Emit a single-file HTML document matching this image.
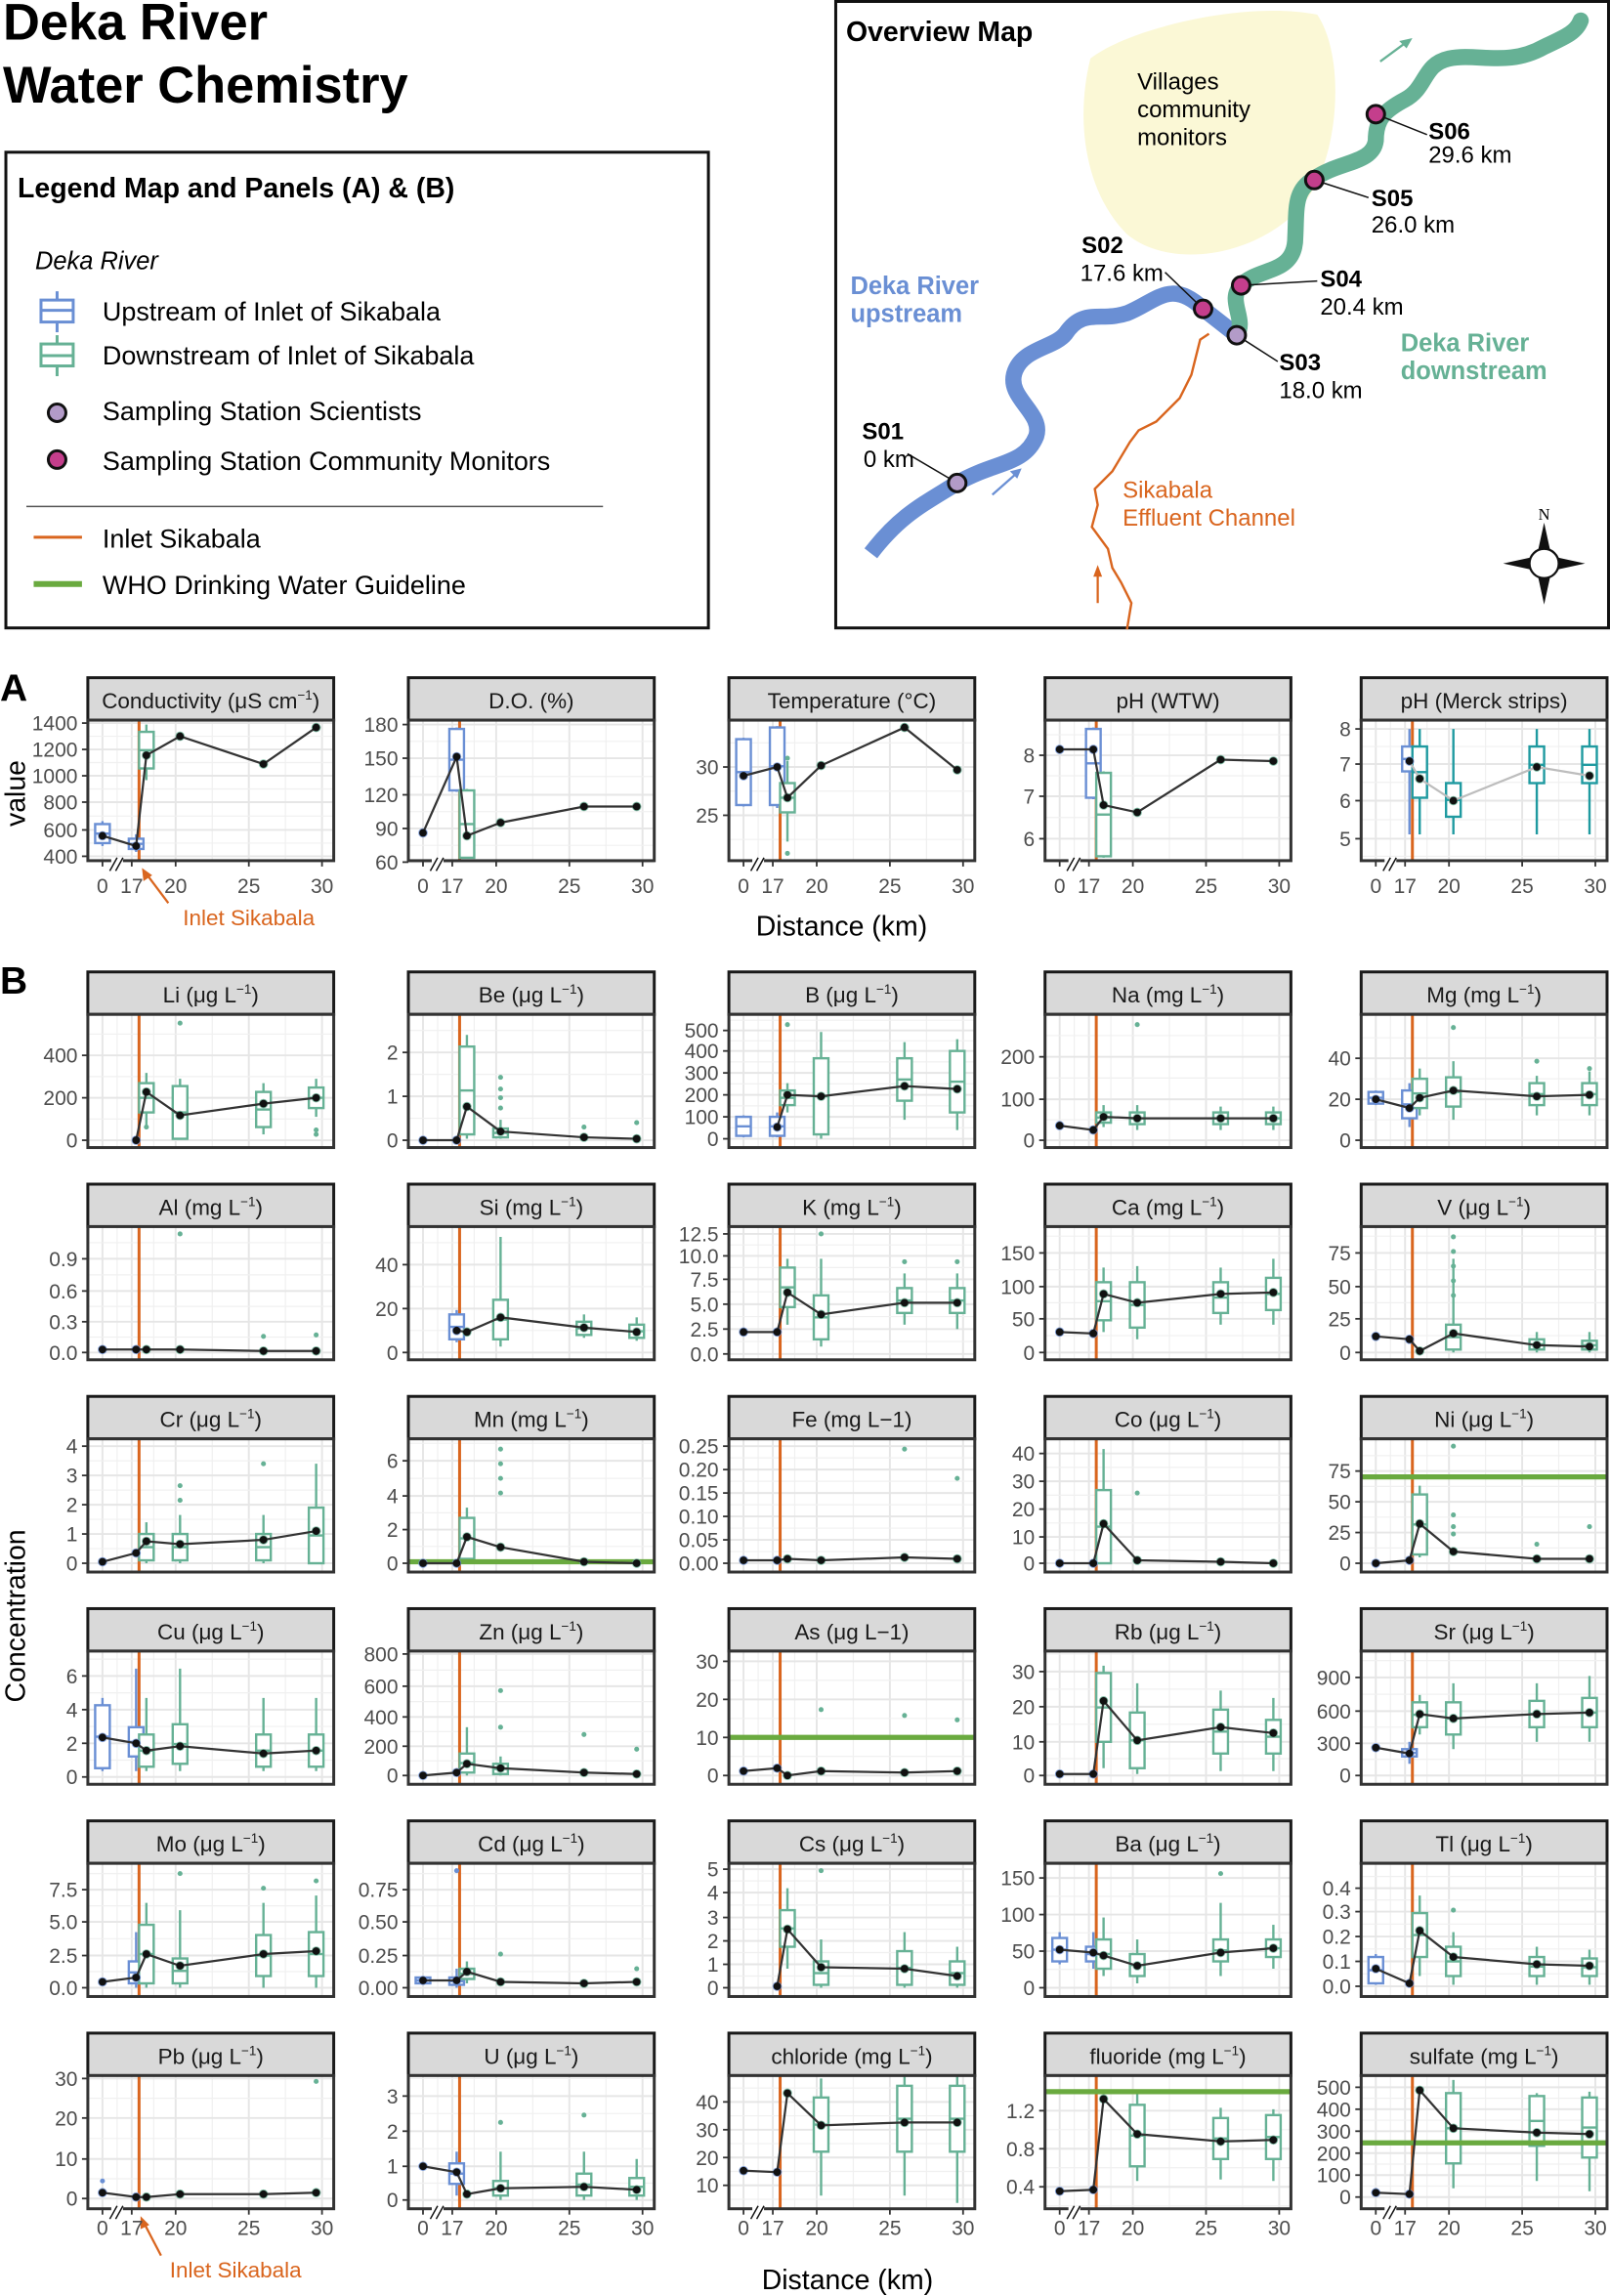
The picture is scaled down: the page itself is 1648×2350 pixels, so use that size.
<!DOCTYPE html>
<html><head><meta charset="utf-8">
<style>
html,body{margin:0;padding:0;background:#fff}
svg{display:block}
text{font-family:"Liberation Sans Narrow","Liberation Sans",sans-serif}
.t{font-size:14px;fill:#4d4d4d}
.s{font-size:15px;fill:#1a1a1a;text-anchor:middle}
.e{text-anchor:end}
.m{text-anchor:middle}
.sup{font-size:9px}
</style></head>
<body>
<svg id="sv" width="1648" height="2350" viewBox="0 0 1100 1568.6" xmlns="http://www.w3.org/2000/svg">
<rect width="1100" height="1569" fill="#fff"/>
<!-- Title -->
<text x="2" y="27" style="font-family:'Liberation Sans',sans-serif;font-weight:bold;font-size:35px">Deka River</text>
<text x="2" y="70" style="font-family:'Liberation Sans',sans-serif;font-weight:bold;font-size:35px">Water Chemistry</text>

<!-- Legend -->
<rect x="4" y="104" width="480" height="325" fill="#fff" stroke="#111" stroke-width="2"/>
<text x="12" y="135" style="font-weight:bold;font-size:19px">Legend Map and Panels (A) &amp; (B)</text>
<text x="24" y="184" style="font-style:italic;font-size:17px">Deka River</text>
<g stroke-width="2" fill="none">
<g stroke="#6a8fd4"><line x1="39" y1="199" x2="39" y2="227"/><rect x="28" y="205" width="22" height="15" fill="#fff"/><line x1="28" y1="212" x2="50" y2="212"/></g>
<g stroke="#66b195"><line x1="39" y1="229" x2="39" y2="257"/><rect x="28" y="235" width="22" height="15" fill="#fff"/><line x1="28" y1="243" x2="50" y2="243"/></g>
</g>
<circle cx="39" cy="282" r="6" fill="#b39bc8" stroke="#111" stroke-width="2"/>
<circle cx="39" cy="314" r="6" fill="#c43e8c" stroke="#111" stroke-width="2"/>
<line x1="18" y1="346" x2="412" y2="346" stroke="#555" stroke-width="1"/>
<line x1="23" y1="367" x2="56" y2="367" stroke="#d9651e" stroke-width="2"/>
<line x1="23" y1="399" x2="56" y2="399" stroke="#6aaa3f" stroke-width="4"/>
<g style="font-size:18px">
<text x="70" y="219">Upstream of Inlet of Sikabala</text>
<text x="70" y="249">Downstream of Inlet of Sikabala</text>
<text x="70" y="287">Sampling Station Scientists</text>
<text x="70" y="321">Sampling Station Community Monitors</text>
<text x="70" y="374">Inlet Sikabala</text>
<text x="70" y="406">WHO Drinking Water Guideline</text>
</g>

<!-- Map -->
<rect x="571" y="1" width="528" height="428" fill="#fff" stroke="#111" stroke-width="2"/>
<path d="M745,40 C770,20 850,0 900,10 C920,40 915,110 890,140 C860,175 800,185 770,160 C740,130 735,80 745,40 Z" fill="#fbf8d6"/>
<path d="M770,430 L773,412 L766,398 L760,388 L757,375 L746,360 L750,345 L748,334 L760,322 L772,302 L778,294 L790,288 L806,272 L814,256 L818,240 L820,232 L826,228" fill="none" stroke="#d9651e" stroke-width="1.6"/>
<path d="M595,378 C615,352 630,345 654,330 C680,315 700,318 708,298 C713,282 688,272 693,255 C698,238 720,238 728,228 C740,210 752,220 770,214 C790,206 800,190 822,211 L845,229" fill="none" stroke="#6a8fd4" stroke-width="11" stroke-linecap="butt"/>
<path d="M845,229 C852,218 838,205 848,195 C860,182 885,188 885,162 C886,142 884,130 898,122 C915,110 938,112 940,96 C940,82 945,76 960,68 C975,60 972,44 990,40 C1010,36 1030,46 1055,32 C1070,25 1077,22 1080,14" fill="none" stroke="#66b195" stroke-width="11" stroke-linecap="round"/>
<line x1="678" y1="338" x2="695" y2="323" stroke="#6a8fd4" stroke-width="1.5"/><path d="M698,320 l-8,2 l5,5z" fill="#6a8fd4"/>
<line x1="943" y1="42" x2="962" y2="28" stroke="#66b195" stroke-width="1.5"/><path d="M965,26 l-9,2 l5,5z" fill="#66b195"/>
<line x1="750" y1="412" x2="750" y2="390" stroke="#d9651e" stroke-width="1.5"/><path d="M750,386 l-3,8 h6z" fill="#d9651e"/>
<g stroke="#111" stroke-width="1">
<line x1="654" y1="330" x2="620" y2="310"/><line x1="822" y1="211" x2="796" y2="186"/>
<line x1="845" y1="229" x2="873" y2="247"/><line x1="848" y1="195" x2="900" y2="192"/>
<line x1="898" y1="123" x2="935" y2="135"/><line x1="940" y1="78" x2="975" y2="92"/>
</g>
<g stroke="#111" stroke-width="2">
<circle cx="654" cy="330" r="6" fill="#b39bc8"/><circle cx="845" cy="229" r="6" fill="#b39bc8"/>
<circle cx="822" cy="211" r="6" fill="#c43e8c"/><circle cx="848" cy="195" r="6" fill="#c43e8c"/>
<circle cx="898" cy="123" r="6" fill="#c43e8c"/><circle cx="940" cy="78" r="6" fill="#c43e8c"/>
</g>
<text x="578" y="28" style="font-weight:bold;font-size:19px">Overview Map</text>
<g style="font-size:16px">
<text x="777" y="61">Villages</text><text x="777" y="80">community</text><text x="777" y="99">monitors</text>
<text x="589" y="300" style="font-weight:bold">S01</text><text x="590" y="319">0 km</text>
<text x="739" y="173" style="font-weight:bold">S02</text><text x="738" y="192">17.6 km</text>
<text x="874" y="253" style="font-weight:bold">S03</text><text x="874" y="272">18.0 km</text>
<text x="902" y="196" style="font-weight:bold">S04</text><text x="902" y="215">20.4 km</text>
<text x="937" y="141" style="font-weight:bold">S05</text><text x="937" y="159">26.0 km</text>
<text x="976" y="95" style="font-weight:bold">S06</text><text x="976" y="111">29.6 km</text>
<text x="767" y="340" fill="#d9651e">Sikabala</text><text x="767" y="359" fill="#d9651e">Effluent Channel</text>
</g>
<g style="font-size:17px;font-weight:bold">
<text x="581" y="201" fill="#6a8fd4">Deka River</text><text x="581" y="220" fill="#6a8fd4">upstream</text>
<text x="957" y="240" fill="#66b195">Deka River</text><text x="957" y="259" fill="#66b195">downstream</text>
</g>
<g transform="translate(1055,385)">
<path d="M0,-28 L5,-5 L28,0 L5,5 L0,28 L-5,5 L-28,0 L-5,-5Z" fill="#111"/>
<circle r="10" fill="#fff" stroke="#111" stroke-width="1.5"/>
<text x="0" y="-30" class="m" style="font-family:'Liberation Serif',serif;font-size:11px">N</text>
</g>

<!-- Panel letters and axis titles -->
<text x="0" y="479" style="font-family:'Liberation Sans',sans-serif;font-weight:bold;font-size:26px">A</text>
<text x="0" y="679" style="font-family:'Liberation Sans',sans-serif;font-weight:bold;font-size:26px">B</text>
<text transform="translate(17,542) rotate(-90)" class="m" style="font-size:19px">value</text>
<text transform="translate(17,1104) rotate(-90)" class="m" style="font-size:19px">Concentration</text>
<text x="575" y="639" class="m" style="font-size:19px">Distance (km)</text>
<text x="579" y="1564" class="m" style="font-size:19px">Distance (km)</text>
<text x="170" y="632" class="m" style="font-size:15px" fill="#d9651e">Inlet Sikabala</text>
<text x="161" y="1556" class="m" style="font-size:15px" fill="#d9651e">Inlet Sikabala</text>
<line x1="115" y1="617" x2="100" y2="597" stroke="#d9651e" stroke-width="1.5"/><path d="M97,593 l1,9 l6,-4z" fill="#d9651e"/>
<line x1="110" y1="1541" x2="98" y2="1518" stroke="#d9651e" stroke-width="1.5"/><path d="M96,1514 l0,9 l6,-3z" fill="#d9651e"/>

<g id="shapes"></g>

<!-- Strip labels -->
<g class="s">
<text x="144" y="484">Conductivity (μS cm<tspan class="sup" dy="-6">−1</tspan><tspan dy="6">)</tspan></text>
<text x="363" y="484">D.O. (%)</text>
<text x="582" y="484">Temperature (°C)</text>
<text x="798" y="484">pH (WTW)</text>
<text x="1014" y="484">pH (Merck strips)</text>

<text x="144" y="685">Li (μg L<tspan class="sup" dy="-6">−1</tspan><tspan dy="6">)</tspan></text>
<text x="363" y="685">Be (μg L<tspan class="sup" dy="-6">−1</tspan><tspan dy="6">)</tspan></text>
<text x="582" y="685">B (μg L<tspan class="sup" dy="-6">−1</tspan><tspan dy="6">)</tspan></text>
<text x="798" y="685">Na (mg L<tspan class="sup" dy="-6">−1</tspan><tspan dy="6">)</tspan></text>
<text x="1014" y="685">Mg (mg L<tspan class="sup" dy="-6">−1</tspan><tspan dy="6">)</tspan></text>

<text x="144" y="830">Al (mg L<tspan class="sup" dy="-6">−1</tspan><tspan dy="6">)</tspan></text>
<text x="363" y="830">Si (mg L<tspan class="sup" dy="-6">−1</tspan><tspan dy="6">)</tspan></text>
<text x="582" y="830">K (mg L<tspan class="sup" dy="-6">−1</tspan><tspan dy="6">)</tspan></text>
<text x="798" y="830">Ca (mg L<tspan class="sup" dy="-6">−1</tspan><tspan dy="6">)</tspan></text>
<text x="1014" y="830">V (μg L<tspan class="sup" dy="-6">−1</tspan><tspan dy="6">)</tspan></text>

<text x="144" y="975">Cr (μg L<tspan class="sup" dy="-6">−1</tspan><tspan dy="6">)</tspan></text>
<text x="363" y="975">Mn (mg L<tspan class="sup" dy="-6">−1</tspan><tspan dy="6">)</tspan></text>
<text x="582" y="975">Fe (mg L−1)</text>
<text x="798" y="975">Co (μg L<tspan class="sup" dy="-6">−1</tspan><tspan dy="6">)</tspan></text>
<text x="1014" y="975">Ni (μg L<tspan class="sup" dy="-6">−1</tspan><tspan dy="6">)</tspan></text>

<text x="144" y="1120">Cu (μg L<tspan class="sup" dy="-6">−1</tspan><tspan dy="6">)</tspan></text>
<text x="363" y="1120">Zn (μg L<tspan class="sup" dy="-6">−1</tspan><tspan dy="6">)</tspan></text>
<text x="582" y="1120">As (μg L−1)</text>
<text x="798" y="1120">Rb (μg L<tspan class="sup" dy="-6">−1</tspan><tspan dy="6">)</tspan></text>
<text x="1014" y="1120">Sr (μg L<tspan class="sup" dy="-6">−1</tspan><tspan dy="6">)</tspan></text>

<text x="144" y="1265">Mo (μg L<tspan class="sup" dy="-6">−1</tspan><tspan dy="6">)</tspan></text>
<text x="363" y="1265">Cd (μg L<tspan class="sup" dy="-6">−1</tspan><tspan dy="6">)</tspan></text>
<text x="582" y="1265">Cs (μg L<tspan class="sup" dy="-6">−1</tspan><tspan dy="6">)</tspan></text>
<text x="798" y="1265">Ba (μg L<tspan class="sup" dy="-6">−1</tspan><tspan dy="6">)</tspan></text>
<text x="1014" y="1265">Tl (μg L<tspan class="sup" dy="-6">−1</tspan><tspan dy="6">)</tspan></text>

<text x="144" y="1410">Pb (μg L<tspan class="sup" dy="-6">−1</tspan><tspan dy="6">)</tspan></text>
<text x="363" y="1410">U (μg L<tspan class="sup" dy="-6">−1</tspan><tspan dy="6">)</tspan></text>
<text x="582" y="1410">chloride (mg L<tspan class="sup" dy="-6">−1</tspan><tspan dy="6">)</tspan></text>
<text x="798" y="1410">fluoride (mg L<tspan class="sup" dy="-6">−1</tspan><tspan dy="6">)</tspan></text>
<text x="1014" y="1410">sulfate (mg L<tspan class="sup" dy="-6">−1</tspan><tspan dy="6">)</tspan></text>
</g>

<!-- Y tick labels -->
<g class="t e">
<text x="53" y="499">1400</text><text x="53" y="517">1200</text><text x="53" y="535">1000</text><text x="53" y="553">800</text><text x="53" y="572">600</text><text x="53" y="590">400</text>
<text x="272" y="500">180</text><text x="272" y="523">150</text><text x="272" y="548">120</text><text x="272" y="571">90</text><text x="272" y="594">60</text>
<text x="491" y="529">30</text><text x="491" y="562">25</text>
<text x="707" y="521">8</text><text x="707" y="549">7</text><text x="707" y="578">6</text>
<text x="923" y="503">8</text><text x="923" y="527">7</text><text x="923" y="552">6</text><text x="923" y="578">5</text>

<text x="53" y="726">400</text><text x="53" y="755">200</text><text x="53" y="784">0</text>
<text x="272" y="724">2</text><text x="272" y="754">1</text><text x="272" y="784">0</text>
<text x="491" y="709">500</text><text x="491" y="723">400</text><text x="491" y="738">300</text><text x="491" y="753">200</text><text x="491" y="768">100</text><text x="491" y="783">0</text>
<text x="707" y="727">200</text><text x="707" y="756">100</text><text x="707" y="784">0</text>
<text x="923" y="728">40</text><text x="923" y="756">20</text><text x="923" y="784">0</text>

<text x="53" y="865">0.9</text><text x="53" y="887">0.6</text><text x="53" y="908">0.3</text><text x="53" y="929">0.0</text>
<text x="272" y="869">40</text><text x="272" y="899">20</text><text x="272" y="929">0</text>
<text x="491" y="848">12.5</text><text x="491" y="863">10.0</text><text x="491" y="879">7.5</text><text x="491" y="896">5.0</text><text x="491" y="913">2.5</text><text x="491" y="930">0.0</text>
<text x="707" y="861">150</text><text x="707" y="884">100</text><text x="707" y="906">50</text><text x="707" y="929">0</text>
<text x="923" y="861">75</text><text x="923" y="884">50</text><text x="923" y="906">25</text><text x="923" y="929">0</text>

<text x="53" y="993">4</text><text x="53" y="1013">3</text><text x="53" y="1033">2</text><text x="53" y="1053">1</text><text x="53" y="1073">0</text>
<text x="272" y="1003">6</text><text x="272" y="1027">4</text><text x="272" y="1050">2</text><text x="272" y="1073">0</text>
<text x="491" y="993">0.25</text><text x="491" y="1009">0.20</text><text x="491" y="1025">0.15</text><text x="491" y="1041">0.10</text><text x="491" y="1057">0.05</text><text x="491" y="1073">0.00</text>
<text x="707" y="998">40</text><text x="707" y="1017">30</text><text x="707" y="1036">20</text><text x="707" y="1055">10</text><text x="707" y="1073">0</text>
<text x="923" y="1010">75</text><text x="923" y="1031">50</text><text x="923" y="1052">25</text><text x="923" y="1073">0</text>

<text x="53" y="1150">6</text><text x="53" y="1173">4</text><text x="53" y="1196">2</text><text x="53" y="1219">0</text>
<text x="272" y="1135">800</text><text x="272" y="1157">600</text><text x="272" y="1178">400</text><text x="272" y="1198">200</text><text x="272" y="1218">0</text>
<text x="491" y="1140">30</text><text x="491" y="1166">20</text><text x="491" y="1192">10</text><text x="491" y="1218">0</text>
<text x="707" y="1147">30</text><text x="707" y="1171">20</text><text x="707" y="1195">10</text><text x="707" y="1218">0</text>
<text x="923" y="1151">900</text><text x="923" y="1174">600</text><text x="923" y="1196">300</text><text x="923" y="1218">0</text>

<text x="53" y="1296">7.5</text><text x="53" y="1318">5.0</text><text x="53" y="1341">2.5</text><text x="53" y="1363">0.0</text>
<text x="272" y="1296">0.75</text><text x="272" y="1318">0.50</text><text x="272" y="1341">0.25</text><text x="272" y="1363">0.00</text>
<text x="491" y="1282">5</text><text x="491" y="1298">4</text><text x="491" y="1315">3</text><text x="491" y="1331">2</text><text x="491" y="1347">1</text><text x="491" y="1363">0</text>
<text x="707" y="1288">150</text><text x="707" y="1313">100</text><text x="707" y="1338">50</text><text x="707" y="1363">0</text>
<text x="923" y="1295">0.4</text><text x="923" y="1311">0.3</text><text x="923" y="1328">0.2</text><text x="923" y="1345">0.1</text><text x="923" y="1362">0.0</text>

<text x="53" y="1425">30</text><text x="53" y="1452">20</text><text x="53" y="1480">10</text><text x="53" y="1507">0</text>
<text x="272" y="1437">3</text><text x="272" y="1461">2</text><text x="272" y="1485">1</text><text x="272" y="1508">0</text>
<text x="491" y="1441">40</text><text x="491" y="1460">30</text><text x="491" y="1479">20</text><text x="491" y="1498">10</text>
<text x="707" y="1447">1.2</text><text x="707" y="1473">0.8</text><text x="707" y="1499">0.4</text>
<text x="923" y="1431">500</text><text x="923" y="1446">400</text><text x="923" y="1461">300</text><text x="923" y="1476">200</text><text x="923" y="1491">100</text><text x="923" y="1506">0</text>
</g>

<!-- X tick labels -->
<g class="t m">
<text x="70" y="610">0</text><text x="90" y="610">17</text><text x="120" y="610">20</text><text x="170" y="610">25</text><text x="220" y="610">30</text>
<text x="289" y="610">0</text><text x="309" y="610">17</text><text x="339" y="610">20</text><text x="389" y="610">25</text><text x="439" y="610">30</text>
<text x="508" y="610">0</text><text x="528" y="610">17</text><text x="558" y="610">20</text><text x="608" y="610">25</text><text x="658" y="610">30</text>
<text x="724" y="610">0</text><text x="744" y="610">17</text><text x="774" y="610">20</text><text x="824" y="610">25</text><text x="874" y="610">30</text>
<text x="940" y="610">0</text><text x="960" y="610">17</text><text x="990" y="610">20</text><text x="1040" y="610">25</text><text x="1090" y="610">30</text>
<text x="70" y="1527">0</text><text x="90" y="1527">17</text><text x="120" y="1527">20</text><text x="170" y="1527">25</text><text x="220" y="1527">30</text>
<text x="289" y="1527">0</text><text x="309" y="1527">17</text><text x="339" y="1527">20</text><text x="389" y="1527">25</text><text x="439" y="1527">30</text>
<text x="508" y="1527">0</text><text x="528" y="1527">17</text><text x="558" y="1527">20</text><text x="608" y="1527">25</text><text x="658" y="1527">30</text>
<text x="724" y="1527">0</text><text x="744" y="1527">17</text><text x="774" y="1527">20</text><text x="824" y="1527">25</text><text x="874" y="1527">30</text>
<text x="940" y="1527">0</text><text x="960" y="1527">17</text><text x="990" y="1527">20</text><text x="1040" y="1527">25</text><text x="1090" y="1527">30</text>
</g>
</svg>
<script>
(function(){
var NS="http://www.w3.org/2000/svg",G=document.getElementById("shapes");
function el(t,a,p){var e=document.createElementNS(NS,t);for(var k in a)e.setAttribute(k,a[k]);(p||G).appendChild(e);return e;}
var cols=[60,279,498,714,930],XO=[10,33,40,63,120,156];
var BL="#6a8fd4",GR="#66b195",TE="#1f9aa0",OR="#d9651e",WHO="#6aaa3f";
function col(k){return k<2?BL:GR;}
var P=[];
function A(c,t,pts,bx,o){o=o||{};P.push({c:c,st:463,pt:492,pb:588,ticks:t,pts:pts,bx:bx||[],who:o.who,xl:true,gray:o.gray,inlet:!o.noin,out:o.out});}
function B(c,r,t,pts,bx,o){o=o||{};var st=664+145*r;P.push({c:c,st:st,pt:st+29,pb:st+120,ticks:t,pts:pts,bx:bx||[],who:o.who,xl:r==5,inlet:true,out:o.out});}
A(0,[494,512,530,548,567,585],[571,578,516,503,522,497],[[0,563,576,561,578],[1,573,580,570,582],[2,500,525,495,533]]);
A(1,[495,518,543,566,589],[569,517,571,562,551,551],[[1,498,540,497,541],[2,540,586,539,586]]);
A(2,[524,557],[530,524,545,523,497,526],[[0,505,550,504,551],[1,497,550,496,552],[2,535,555,520,575]],{out:[[2,518],[2,583]]});
A(3,[516,544,573],[512,512,550,555,519,520],[[1,498,545,497,546],[2,528,585,527,586]]);
A(4,[498,522,547,573],[null,520,532,547,524,530],[[1,510,527,498,570,BL],[2,510,545,498,570,TE],[3,535,558,498,570,TE],[4,510,535,498,570,TE],[5,510,535,498,570,TE]],{gray:true});
B(0,0,[721,750,779],[null,779,746,762,754,750],[[2,740,760,733,770],[3,742,778,737,778],[4,746,770,740,775],[5,743,757,737,763]],{out:[[3,699],[2,770],[5,772],[5,775]]});
B(1,0,[719,749,779],[779,779,756,773,777,778],[[2,715,775,707,778],[3,771,777,765,778]],{out:[[3,736],[3,744],[3,750],[3,757],[4,770],[5,767]]});
B(2,0,[704,718,733,748,763,778],[null,770,748,749,742,744],[[0,763,776,762,777],[1,763,776,760,777],[2,745,755,740,760],[3,723,775,705,778],[4,723,752,712,765],[5,718,760,710,772]],{out:[[2,700]]});
B(3,0,[722,751,779],[769,772,763,764,764,764],[[2,760,767,755,770],[3,760,768,755,772],[4,760,768,756,772],[5,760,768,756,772]],{out:[[3,700]]});
B(4,0,[723,751,779],[751,757,750,745,749,748],[[0,746,754,745,755],[1,745,764,740,770],[2,737,757,730,762],[3,736,756,725,765],[4,740,755,735,762],[5,740,755,732,762]],{out:[[3,702],[4,725],[5,730]]});
B(0,1,[860,882,903,924],[922,922,922,922,923,923],[],{out:[[3,843],[5,912],[4,913]]});
B(1,1,[864,894,924],[null,909,910,900,907,910],[[1,898,915,895,917],[3,888,915,845,920],[4,903,912,898,914],[5,905,914,900,916]]);
B(2,1,[843,858,874,891,908,925],[910,910,883,898,890,890],[[2,866,893,860,905],[3,885,915,860,920],[4,880,897,870,905],[5,880,897,870,908]],{out:[[3,843],[4,862],[5,862]]});
B(3,1,[856,879,901,924],[910,911,884,890,884,883],[[2,876,902,866,910],[3,876,907,865,915],[4,876,897,866,905],[5,873,895,860,905]]);
B(4,1,[856,879,901,924],[913,915,923,911,919,920],[[3,905,922,860,924],[4,915,922,910,924],[5,916,922,910,924]],{out:[[3,845],[3,855],[3,865],[3,875],[3,885]]});
B(0,2,[988,1008,1028,1048,1068],[1067,1061,1053,1055,1052,1046],[[2,1048,1066,1040,1068],[3,1048,1066,1035,1068],[4,1048,1066,1035,1068],[5,1030,1068,1000,1068]],{out:[[3,1015],[3,1025],[4,1000]]});
B(1,2,[998,1022,1045,1068],[1068,1068,1050,1057,1067,1068],[[2,1037,1065,1030,1068]],{who:1067,out:[[3,990],[3,1000],[3,1010],[3,1020]]});
B(2,2,[988,1004,1020,1036,1052,1068],[1066,1066,1065,1066,1064,1065],[],{out:[[4,990],[5,1010]]});
B(3,2,[993,1012,1031,1050,1068],[1068,1068,1041,1066,1067,1068],[[2,1018,1068,990,1068]],{out:[[3,1020]]});
B(4,2,[1005,1026,1047,1068],[1068,1066,1041,1060,1065,1065],[[2,1021,1062,1015,1064]],{who:1009,out:[[3,988],[3,1035],[3,1043],[3,1048],[4,1055],[5,1043]]});
B(0,3,[1145,1168,1191,1214],[1187,1191,1196,1193,1198,1196],[[0,1165,1208,1160,1210],[1,1180,1200,1140,1210],[2,1185,1207,1160,1210],[3,1178,1205,1140,1210],[4,1185,1207,1160,1210],[5,1185,1207,1160,1210]]);
B(1,3,[1130,1152,1173,1193,1213],[1213,1211,1205,1208,1211,1212],[[2,1198,1211,1180,1213],[3,1205,1212,1200,1213]],{out:[[3,1180],[3,1155],[5,1195],[4,1185]]});
B(2,3,[1135,1161,1187,1213],[1210,1208,1213,1210,1211,1210],[],{who:1187,out:[[3,1168],[4,1172],[5,1175]]});
B(3,3,[1142,1166,1190,1213],[1212,1212,1162,1189,1180,1184],[[2,1143,1190,1138,1208],[3,1170,1208,1150,1212],[4,1168,1198,1155,1210],[5,1175,1198,1160,1210]]);
B(4,3,[1146,1169,1191,1213],[1194,1198,1171,1174,1171,1170],[[1,1195,1200,1190,1205],[2,1163,1180,1158,1185],[3,1163,1185,1150,1195],[4,1162,1180,1150,1190],[5,1160,1180,1145,1190]]);
B(0,4,[1291,1313,1336,1358],[1354,1351,1335,1343,1335,1333],[[1,1340,1355,1320,1358],[2,1315,1355,1300,1358],[3,1338,1355,1305,1358],[4,1322,1350,1300,1358],[5,1320,1350,1295,1358]],{out:[[3,1280],[5,1285],[4,1290]]});
B(1,4,[1291,1313,1336,1358],[1353,1353,1347,1354,1355,1354],[[0,1351,1355,1350,1356],[1,1351,1356,1345,1358],[2,1345,1352,1340,1355]],{out:[[1,1278],[3,1335],[5,1345]]});
B(2,4,[1277,1293,1310,1326,1342,1358],[null,1357,1318,1344,1345,1350],[[2,1305,1330,1290,1345],[3,1340,1356,1325,1358],[4,1333,1356,1320,1358],[5,1340,1356,1330,1358]],{out:[[3,1278]]});
B(3,4,[1283,1308,1333,1358],[1332,1334,1336,1343,1334,1331],[[0,1324,1340,1320,1342],[1,1330,1340,1320,1345],[2,1325,1345,1310,1350],[3,1335,1350,1325,1355],[4,1325,1340,1300,1350],[5,1325,1337,1315,1345]],{out:[[4,1280]]});
B(4,4,[1290,1306,1323,1340,1357],[1345,1355,1319,1337,1342,1343],[[0,1337,1355,1335,1356,BL],[2,1307,1337,1295,1350],[3,1330,1350,1320,1356],[4,1337,1350,1330,1356],[5,1338,1350,1332,1356]],{out:[[3,1305]]});
B(0,5,[1420,1447,1475,1502],[1498,1501,1501,1499,1499,1498],[],{out:[[5,1422],[0,1490]]});
B(1,5,[1432,1456,1480,1503],[1480,1484,1499,1495,1494,1496],[[1,1478,1492,1470,1500],[3,1490,1500,1470,1503],[4,1485,1500,1470,1503],[5,1488,1500,1475,1503]],{out:[[3,1450],[4,1445]]});
B(2,5,[1436,1455,1474,1493],[1483,1484,1430,1452,1450,1450],[[3,1433,1470,1420,1500],[4,1425,1470,1418,1500],[5,1425,1470,1418,1505]]);
B(3,5,[1442,1468,1494],[1497,1496,1434,1458,1463,1462],[[3,1438,1480,1430,1490],[4,1447,1475,1440,1489],[5,1445,1475,1441,1490]],{who:1429});
B(4,5,[1426,1441,1456,1471,1486,1501],[1498,1499,1428,1454,1457,1458],[[3,1430,1478,1421,1495],[4,1432,1466,1430,1490],[5,1433,1474,1429,1497]],{who:1464});

P.forEach(function(p){
  var x0=cols[p.c],W=168;
  el("rect",{x:x0,y:p.st,width:W,height:p.pt-p.st,fill:"#d9d9d9",stroke:"#1a1a1a","stroke-width":2});
  el("rect",{x:x0,y:p.pt,width:W,height:p.pb-p.pt,fill:"#fff"});
  [20,45,85,135].forEach(function(v){el("line",{x1:x0+v,y1:p.pt,x2:x0+v,y2:p.pb,stroke:"#f0f0f0","stroke-width":0.8});});
  [10,30,60,110,160].forEach(function(v){el("line",{x1:x0+v,y1:p.pt,x2:x0+v,y2:p.pb,stroke:"#e6e6e6","stroke-width":1.3});});
  var t=p.ticks;
  for(var i=0;i<t.length;i++){
    el("line",{x1:x0,y1:t[i],x2:x0+W,y2:t[i],stroke:"#e6e6e6","stroke-width":1.3});
    if(i<t.length-1){var m=(t[i]+t[i+1])/2;el("line",{x1:x0,y1:m,x2:x0+W,y2:m,stroke:"#f0f0f0","stroke-width":0.8});}
    el("line",{x1:x0-4,y1:t[i],x2:x0,y2:t[i],stroke:"#333","stroke-width":1.2});
  }
  var d=t.length>1?t[1]-t[0]:30;
  var m1=t[0]-d/2; if(m1>p.pt) el("line",{x1:x0,y1:m1,x2:x0+W,y2:m1,stroke:"#f0f0f0","stroke-width":0.8});
  var m2=t[t.length-1]+d/2; if(m2<p.pb) el("line",{x1:x0,y1:m2,x2:x0+W,y2:m2,stroke:"#f0f0f0","stroke-width":0.8});
  if(p.inlet) el("line",{x1:x0+35,y1:p.pt,x2:x0+35,y2:p.pb,stroke:OR,"stroke-width":2});
  p.bx.forEach(function(b){
    var cx=x0+XO[b[0]],c=b[5]||col(b[0]);
    el("line",{x1:cx,y1:b[3],x2:cx,y2:b[4],stroke:c,"stroke-width":1.6});
    el("rect",{x:cx-5,y:b[1],width:10,height:Math.max(1,b[2]-b[1]),fill:"#fff",stroke:c,"stroke-width":1.6});
    var md=(b[1]+b[2])/2;
    el("line",{x1:cx-5,y1:md,x2:cx+5,y2:md,stroke:c,"stroke-width":1.6});
  });
  (p.out||[]).forEach(function(o){el("circle",{cx:x0+XO[o[0]],cy:o[1],r:1.7,fill:col(o[0])});});
  if(p.who) el("line",{x1:x0,y1:p.who,x2:x0+W,y2:p.who,stroke:WHO,"stroke-width":3.5});
  p.pts.forEach(function(y,k){ if(y==null)return; el("circle",{cx:x0+XO[k],cy:y,r:3.2,fill:col(k),opacity:0.8});});
  var pts=[];p.pts.forEach(function(y,k){if(y!=null)pts.push((x0+XO[k])+","+y);});
  el("polyline",{points:pts.join(" "),fill:"none",stroke:p.gray?"#bdbdbd":"#333","stroke-width":1.5});
  p.pts.forEach(function(y,k){ if(y==null)return; el("circle",{cx:x0+XO[k],cy:y,r:2.6,fill:"#111"});});
  el("rect",{x:x0,y:p.pt,width:W,height:p.pb-p.pt,fill:"none",stroke:"#333","stroke-width":2});
  if(p.xl){
    [10,30,60,110,160].forEach(function(v){el("line",{x1:x0+v,y1:p.pb,x2:x0+v,y2:p.pb+4,stroke:"#333","stroke-width":1.2});});
    el("rect",{x:x0+16,y:p.pb-2,width:8,height:10,fill:"#fff"});
    el("line",{x1:x0+15,y1:p.pb+7,x2:x0+20,y2:p.pb-2,stroke:"#111","stroke-width":1});
    el("line",{x1:x0+19,y1:p.pb+7,x2:x0+24,y2:p.pb-2,stroke:"#111","stroke-width":1});
  }
});
})();
</script>
</body></html>
